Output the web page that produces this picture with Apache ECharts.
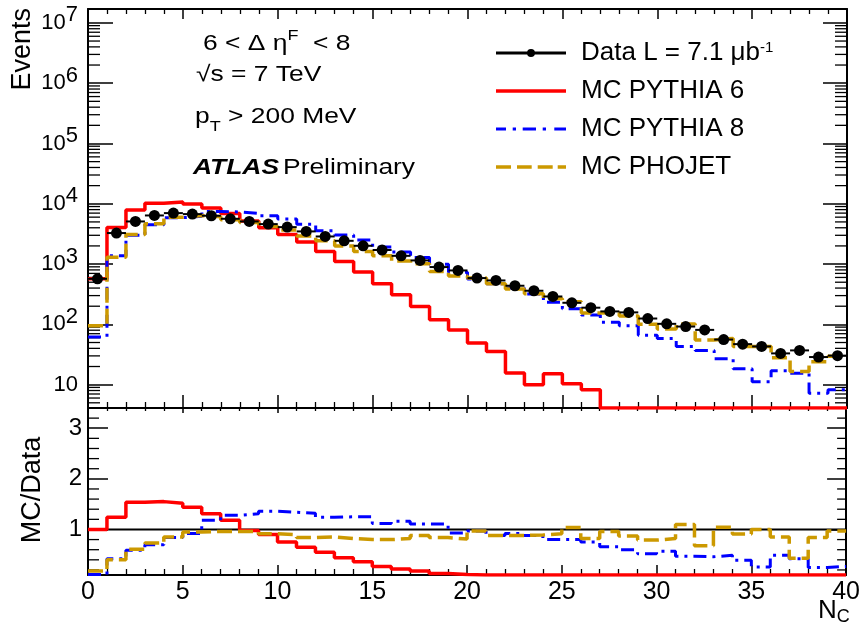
<!DOCTYPE html>
<html>
<head>
<meta charset="utf-8">
<script src="https://cdn.jsdelivr.net/npm/echarts@6/dist/echarts.min.js"></script>
<style>
  html, body { margin: 0; padding: 0; background: #fff; }
  #chart { width: 863px; height: 623px; }
</style>
</head>
<body>
<div id="chart"></div>
<script>
// Charged-particle multiplicity N_C for 6 < Δη^F < 8, with MC/Data ratio panel.
const nBins = 40;
const xMin = 0, xMax = 40;
const yMin = 4.1, yMax = 1.7e7;
const rMin = 0.1, rMax = 3.4;
const binEdges = Array.from({ length: nBins + 1 }, (_, i) => xMin + i);

// Events per bin (bins N_C = 0 .. 39)
const dataEvents = [570, 3270, 5090, 6400, 7000, 6740, 6330, 5640, 5090, 4600,
  4100, 3480, 2870, 2430, 2010, 1710, 1370, 1150, 892, 784,
  586, 535, 437, 361, 290, 228, 189, 164, 158, 125,
  102, 92, 81, 56, 47, 43, 33, 37, 28.7, 30.3];
const pythia6 = [570, 4050, 7900, 10200, 10700, 9900, 8500, 6900, 5200, 4000,
  3100, 2320, 1620, 1100, 736, 471, 310, 198, 119, 81,
  49, 35.6, 15.6, 10, 15.2, 10.4, 8.2, 0, 0, 0,
  0, 0, 0, 0, 0, 0, 0, 0, 0, 0];
const pythia8 = [62, 1370, 3000, 4480, 5880, 6200, 7470, 7300, 6900, 6300,
  5600, 4590, 3560, 3040, 2510, 1920, 1590, 1280, 990, 730,
  568, 471, 402, 318, 232, 182, 143, 108, 95, 66,
  58, 43, 37, 27, 18.3, 11.2, 17, 15.5, 7.2, 8.2];
const phojet = [95, 1300, 3100, 4670, 5950, 6400, 6080, 5410, 4890, 4210,
  3670, 2920, 2440, 1990, 1610, 1370, 1120, 1010, 750, 635,
  586, 471, 385, 321, 265, 237, 155, 157, 137, 100,
  84, 101, 55, 58.5, 43, 43, 28, 16.5, 24, 29.5];

// MC / Data ratio per bin
const ratioPythia6 = [1.0, 1.24, 1.54, 1.55, 1.52, 1.44, 1.31, 1.18, 0.98, 0.90,
  0.75, 0.65, 0.55, 0.44, 0.36, 0.27, 0.22, 0.18, 0.13, 0.11,
  0.08, 0.07, 0.04, 0.03, 0.05, 0.05, 0.04, 0, 0, 0,
  0, 0, 0, 0, 0, 0, 0, 0, 0, 0];
const ratioPythia8 = [0.11, 0.42, 0.59, 0.70, 0.84, 0.92, 1.18, 1.28, 1.31, 1.36,
  1.34, 1.32, 1.24, 1.25, 1.25, 1.12, 1.16, 1.11, 1.11, 0.93,
  0.97, 0.88, 0.92, 0.88, 0.80, 0.80, 0.75, 0.66, 0.60, 0.52,
  0.57, 0.47, 0.46, 0.49, 0.39, 0.26, 0.49, 0.42, 0.25, 0.27];
const ratioPhojet = [0.18, 0.40, 0.61, 0.73, 0.85, 0.95, 0.96, 0.96, 0.96, 0.915,
  0.895, 0.84, 0.85, 0.82, 0.80, 0.80, 0.82, 0.88, 0.84, 0.81,
  0.97, 0.88, 0.88, 0.89, 0.915, 1.04, 0.82, 0.96, 0.87, 0.79,
  0.82, 1.10, 0.68, 1.045, 0.91, 1.0, 0.85, 0.43, 0.84, 0.97];
const ratioReference = 1;

// Tick labels
const xTickValues = [0, 5, 10, 15, 20, 25, 30, 35, 40];
const yTickPowers = [1, 2, 3, 4, 5, 6, 7];
const ratioTickValues = [1, 2, 3];
const logMantissas = [2, 3, 4, 5, 6, 7, 8, 9];

const FONT = "'Liberation Sans', Arial, Helvetica, sans-serif";
const RED = '#ff0000', BLUE = '#0000ff', GOLD = '#cc9900';

// Histogram outline: one point per lower bin edge plus the closing upper edge
function stepPoints(values, floor) {
  const pts = values.map((v, i) => [binEdges[i], Math.max(v, floor)]);
  pts.push([binEdges[nBins], Math.max(values[nBins - 1], floor)]);
  return pts;
}

// Minor ticks drawn on both vertical frame edges
const logMinorTicks = [];
for (let p = 0; p <= 7; p++) {
  logMinorTicks.push(...logMantissas.map(m => m * Math.pow(10, p)));
}
const logMinor = logMinorTicks.filter(v => v > yMin && v < yMax);
const ratioMinor = [];
for (let k = 1; k < 17; k++) {
  const v = +(k * 0.2).toFixed(1);
  if (!ratioTickValues.includes(v) && v > rMin && v < rMax) ratioMinor.push(v);
}

function minorTickSeries(xi, yi, values, lenL, lenR) {
  return {
    type: 'custom', xAxisIndex: xi, yAxisIndex: yi, silent: true, z: 1,
    data: values.map(v => [xMin, v]),
    renderItem: (params, api) => {
      const v = api.value(1);
      const pl = api.coord([xMin, v]);
      const pr = api.coord([xMax, v]);
      return {
        type: 'group', children: [
          { type: 'line', shape: { x1: pl[0], y1: pl[1], x2: pl[0] + lenL, y2: pl[1] }, style: { stroke: '#000', lineWidth: 1.3 } },
          { type: 'line', shape: { x1: pr[0] - lenR, y1: pr[1], x2: pr[0], y2: pr[1] }, style: { stroke: '#000', lineWidth: 1.3 } }
        ]
      };
    }
  };
}

function xAxisDef(grid, position, showLabels, tickLen, minorLen) {
  return {
    type: 'value', gridIndex: grid, position: position, min: xMin, max: xMax, interval: 5,
    axisLine: { show: true, onZero: false, lineStyle: { color: '#000', width: 2 } },
    axisTick: { show: true, inside: true, length: tickLen, lineStyle: { color: '#000', width: 1.5 } },
    minorTick: { show: true, splitNumber: 5, length: minorLen, lineStyle: { color: '#000', width: 1.3 } },
    splitLine: { show: false },
    axisLabel: {
      show: showLabels, margin: 5, color: '#000', fontSize: 25, fontFamily: FONT,
      formatter: v => (xTickValues.includes(v) ? String(v) : '')
    }
  };
}

function logAxisDef(position, showLabels, tickLen) {
  return {
    type: 'log', logBase: 10, gridIndex: 0, position: position, min: yMin, max: yMax,
    axisLine: { show: true, onZero: false, lineStyle: { color: '#000', width: 2 } },
    axisTick: { show: true, inside: true, length: tickLen, lineStyle: { color: '#000', width: 1.5 } },
    splitLine: { show: false },
    axisLabel: {
      show: showLabels, margin: 10, showMinLabel: false, showMaxLabel: false,
      formatter: v => {
        const lg = Math.log10(v), p = Math.round(lg);
        if (Math.abs(lg - p) > 1e-6 || !yTickPowers.includes(p)) return '';
        return p === 1 ? '{b|10}' : '{b|10}{s|' + p + '}';
      },
      rich: {
        b: { fontSize: 22, lineHeight: 22, fontFamily: FONT, color: '#000', verticalAlign: 'bottom' },
        s: { fontSize: 22, lineHeight: 22, fontFamily: FONT, color: '#000', verticalAlign: 'bottom', padding: [0, 0, 7.5, 0] }
      }
    }
  };
}

function ratioAxisDef(position, showLabels, tickLen) {
  return {
    type: 'value', gridIndex: 1, position: position, min: rMin, max: rMax, splitNumber: 3,
    axisLine: { show: true, onZero: false, lineStyle: { color: '#000', width: 2 } },
    axisTick: { show: true, inside: true, length: tickLen, lineStyle: { color: '#000', width: 1.5 } },
    splitLine: { show: false },
    axisLabel: {
      show: showLabels, margin: 6, showMinLabel: false, showMaxLabel: false,
      color: '#000', fontSize: 24, fontFamily: FONT,
      formatter: v => (ratioTickValues.includes(v) ? String(v) : '')
    }
  };
}

function stepSeries(name, values, floor, xi, yi, color, width, dash, z) {
  return {
    name: name, type: 'line', xAxisIndex: xi, yAxisIndex: yi, step: 'end',
    data: stepPoints(values, floor), showSymbol: false, symbol: 'none', z: z,
    color: color,
    lineStyle: { color: color, width: width, type: dash, cap: 'butt' },
    clip: true, animation: false
  };
}

const chart = echarts.init(document.getElementById('chart'), null, { renderer: 'canvas' });

const option = {
  animation: false,
  backgroundColor: '#fff',
  grid: [
    { left: 88, top: 9, width: 759, height: 399 },
    { left: 88, top: 408, width: 759, height: 167 }
  ],
  xAxis: [
    xAxisDef(0, 'bottom', false, 13, 6),
    xAxisDef(0, 'top', false, 10, 5),
    xAxisDef(1, 'bottom', true, 10, 6),
    xAxisDef(1, 'top', false, 5, 3)
  ],
  yAxis: [
    logAxisDef('left', true, 25),
    logAxisDef('right', false, 24),
    ratioAxisDef('left', true, 20),
    ratioAxisDef('right', false, 19)
  ],
  legend: {
    orient: 'vertical', left: 491, top: 35,
    itemWidth: 70, itemHeight: 12, itemGap: 12,
    selectedMode: false,
    itemStyle: { borderWidth: 0 },
    textStyle: {
      color: '#000', fontSize: 26, fontFamily: FONT, lineHeight: 26,
      rich: {
        g: { width: 10 },
        t: { fontSize: 26, lineHeight: 26, fontFamily: FONT, color: '#000' },
        s: { fontSize: 15, lineHeight: 15, fontFamily: FONT, color: '#000', verticalAlign: 'top' }
      }
    },
    formatter: name => (name === 'Data'
      ? '{g|}{t|Data L = 7.1 μb}{s|-1}'
      : '{g|}{t|' + name + '}'),
    data: [
      { name: 'Data', icon: 'path://M0,2.6h70v2.8h-70z M31,4a4,4 0 1,1 8,0a4,4 0 1,1 -8,0z' },
      { name: 'MC PYTHIA 6', icon: 'path://M0,0h70v3.5h-70z' },
      { name: 'MC PYTHIA 8', icon: 'path://M0,0h10v3h-10z M16.7,0h3.3v3h-3.3z M26.7,0h13.3v3h-13.3z M46.7,0h3.3v3h-3.3z M58.3,0h11.7v3h-11.7z' },
      { name: 'MC PHOJET', icon: 'path://M0,0h15v3.5h-15z M21,0h14.7v3.5h-14.7z M41.7,0h15v3.5h-15z M61.7,0h8.3v3.5h-8.3z' }
    ]
  },
  series: [
    minorTickSeries(0, 0, logMinor, 12, 12),
    minorTickSeries(2, 2, ratioMinor, 11, 9),

    stepSeries('MC PYTHIA 6', pythia6, yMin, 0, 0, RED, 3.5, 'solid', 4),
    stepSeries('MC PYTHIA 8', pythia8, yMin, 0, 0, BLUE, 3, [13, 6, 3, 6], 5),
    stepSeries('MC PHOJET', phojet, yMin, 0, 0, GOLD, 3.5, [15, 6], 6),
    {
      name: 'Data', type: 'custom', xAxisIndex: 0, yAxisIndex: 0, z: 10,
      itemStyle: { color: '#000' },
      data: dataEvents.map((v, i) => [(binEdges[i] + binEdges[i + 1]) / 2, v, binEdges[i], binEdges[i + 1]]),
      renderItem: (params, api) => {
        const y = api.value(1);
        const c = api.coord([api.value(0), y]);
        const l = api.coord([api.value(2), y]);
        const r = api.coord([api.value(3), y]);
        return {
          type: 'group', children: [
            { type: 'line', shape: { x1: l[0], y1: l[1], x2: r[0], y2: r[1] }, style: { stroke: '#000', lineWidth: 2 } },
            { type: 'circle', shape: { cx: c[0], cy: c[1], r: 5.5 }, style: { fill: '#000' } }
          ]
        };
      }
    },

    {
      name: 'Data', type: 'line', xAxisIndex: 2, yAxisIndex: 2, z: 3,
      data: [[xMin, ratioReference], [xMax, ratioReference]],
      showSymbol: false, symbol: 'none', color: '#000',
      lineStyle: { color: '#000', width: 2 }
    },
    stepSeries('MC PYTHIA 6', ratioPythia6, rMin, 2, 2, RED, 3.5, 'solid', 4),
    stepSeries('MC PYTHIA 8', ratioPythia8, rMin, 2, 2, BLUE, 3, [13, 6, 3, 6], 5),
    stepSeries('MC PHOJET', ratioPhojet, rMin, 2, 2, GOLD, 3.5, [15, 6], 6)
  ],
  graphic: [
    {
      type: 'text', x: 23, y: 8, rotation: Math.PI / 2,
      style: { text: 'Events', font: '27px ' + FONT, fill: '#000', align: 'right', verticalAlign: 'middle', textAlign: 'right', textVerticalAlign: 'middle' }
    },
    {
      type: 'text', x: 33, y: 490, rotation: Math.PI / 2,
      style: { text: 'MC/Data', font: '27px ' + FONT, fill: '#000', align: 'center', verticalAlign: 'middle', textAlign: 'center', textVerticalAlign: 'middle' }
    },
    {
      type: 'text', x: 818, y: 598,
      style: {
        text: '{n|N}{c|C}', fill: '#000', align: 'left', verticalAlign: 'top',
        rich: {
          n: { font: '26px ' + FONT, fill: '#000', lineHeight: 26, verticalAlign: 'top' },
          c: { font: '18px ' + FONT, fill: '#000', lineHeight: 18, padding: [10, 0, 0, 0], verticalAlign: 'top' }
        }
      }
    },
    {
      type: 'text', x: 203, y: 44, scaleX: 1.2,
      style: {
        text: '{a|6 < Δ η}{s|F}{a|  < 8}', align: 'left', verticalAlign: 'middle',
        rich: {
          a: { font: '22px ' + FONT, fill: '#000', lineHeight: 22, verticalAlign: 'bottom' },
          s: { font: '15px ' + FONT, fill: '#000', lineHeight: 15, padding: [0, 0, 12, 0], verticalAlign: 'bottom' }
        }
      }
    },
    {
      type: 'text', x: 196, y: 75, scaleX: 1.2,
      style: { text: '√s = 7 TeV', font: '22px ' + FONT, fill: '#000', align: 'left', verticalAlign: 'middle', textAlign: 'left', textVerticalAlign: 'middle' }
    },
    {
      type: 'text', x: 195, y: 117, scaleX: 1.2,
      style: {
        text: '{a|p}{s|T}{a| > 200 MeV}', align: 'left', verticalAlign: 'middle',
        rich: {
          a: { font: '22px ' + FONT, fill: '#000', lineHeight: 22, verticalAlign: 'top' },
          s: { font: '15px ' + FONT, fill: '#000', lineHeight: 15, padding: [13, 0, 0, 0], verticalAlign: 'top' }
        }
      }
    },
    {
      type: 'text', x: 193, y: 168, scaleX: 1.2,
      style: {
        text: '{b|ATLAS} {a|Preliminary}', align: 'left', verticalAlign: 'middle',
        rich: {
          b: { font: 'italic bold 22px ' + FONT, fill: '#000', lineHeight: 22 },
          a: { font: '22px ' + FONT, fill: '#000', lineHeight: 22 }
        }
      }
    }
  ]
};

chart.setOption(option);
</script>
</body>
</html>
